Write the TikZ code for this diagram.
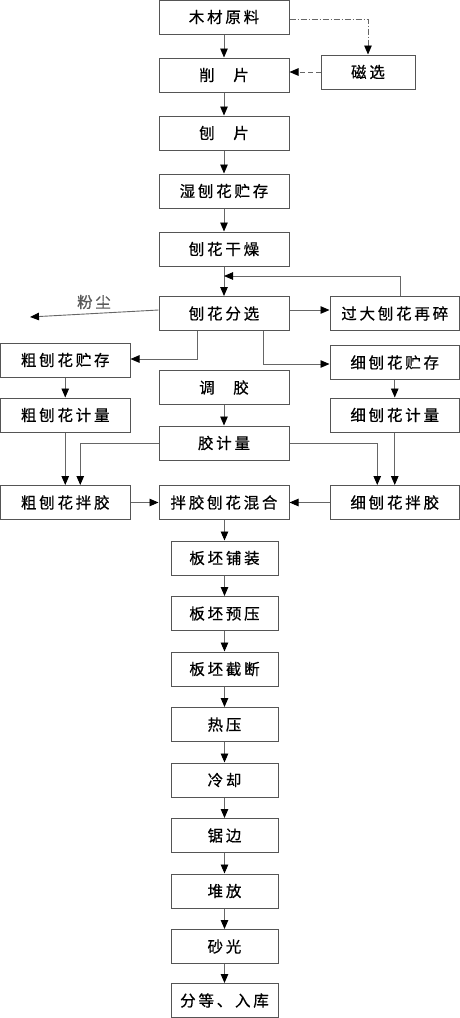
\documentclass[tikz,border=0pt]{standalone}
\usepackage{fontspec}
\setmainfont{Noto Sans CJK SC}[LetterSpace=18,FakeBold=0.6]
\usetikzlibrary{arrows.meta}
\definecolor{boxc}{HTML}{555555}
\definecolor{linec}{HTML}{666666}
\begin{document}
\begin{tikzpicture}[x=1pt,y=-1pt,
  box/.style={draw=boxc, line width=1pt, minimum height=34pt, inner sep=0pt, font=\fontsize{15.5}{15.5}\selectfont},
  mainbox/.style={box, minimum width=130pt},
  sidebox/.style={box, minimum width=129.5pt},
  lowbox/.style={box, minimum width=107pt},
  arr/.style={draw=linec, line width=0.9pt, -{Triangle[length=9pt,width=7.5pt,color=black]}}]
\useasboundingbox (0,0) rectangle (460,1018);
% main column
\node[mainbox] (raw) at (224,17) {木材原料};
\node[mainbox] (xiao) at (224,75) {削\hspace{1.2em}片};
\node[mainbox] (bao) at (224,133) {刨\hspace{1.2em}片};
\node[mainbox] (shi) at (224,191) {湿刨花贮存};
\node[mainbox] (gan) at (224,249) {刨花干燥};
\node[mainbox] (fen) at (224,313.5) {刨花分选};
\node[mainbox] (tiao) at (224,387.5) {调\hspace{1.2em}胶};
\node[mainbox] (jl) at (224,443) {胶计量};
\node[mainbox] (mix) at (224,502.5) {拌胶刨花混合};
\node[box, minimum width=94pt] (mag) at (368,72) {磁选};
% left
\node[sidebox] (cu1) at (65.25,360) {粗刨花贮存};
\node[sidebox] (cu2) at (65.25,415) {粗刨花计量};
\node[sidebox] (cub) at (65.25,502.5) {粗刨花拌胶};
% right
\node[sidebox] (big) at (394.75,313.5) {过大刨花再碎};
\node[sidebox] (xi1) at (394.75,362.5) {细刨花贮存};
\node[sidebox] (xi2) at (394.75,415) {细刨花计量};
\node[sidebox] (xib) at (394.75,502.5) {细刨花拌胶};
% lower column
\node[lowbox] (pu) at (224.5,558) {板坯铺装};
\node[lowbox] (yu) at (224.5,613.5) {板坯预压};
\node[lowbox] (jie) at (224.5,669) {板坯截断};
\node[lowbox] (re) at (224.5,724.5) {热压};
\node[lowbox] (leng) at (224.5,780) {冷却};
\node[lowbox] (ju) at (224.5,835.5) {锯边};
\node[lowbox] (dui) at (224.5,891) {堆放};
\node[lowbox] (sha) at (224.5,946.5) {砂光};
\node[lowbox] (ku) at (224.5,1000.5) {分等、入库};
% dust
\node[text=black!65, font=\fontsize{15.5}{15.5}\selectfont] (dustlabel) at (94,302) {粉尘};
\coordinate (dust) at (30,317);
\coordinate (fb) at (224,276);
% connectors
\draw[arr] (raw) -- (xiao);
\draw[arr] (xiao) -- (bao);
\draw[arr] (bao) -- (shi);
\draw[arr] (shi) -- (gan);
\draw[arr] (gan) -- (fen);
\draw[arr, dash pattern=on 6pt off 2pt on 1pt off 2pt] ([yshift=-2pt]raw.east) -| (mag.north);
\draw[arr, dash pattern=on 5pt off 3pt] (mag.west) -- (mag.west -| xiao.east);
\draw[arr] ([yshift=3.5pt]fen.west) -- (dust);
\draw[arr] ([yshift=3.5pt]fen.east) -- ([yshift=3.5pt]fen.east -| big.west);
\draw[arr] ([xshift=5.5pt]big.north) |- (fb);
\draw[arr] ([xshift=-27pt]fen.south) |- ([yshift=1pt]cu1.east);
\draw[arr] ([xshift=39pt]fen.south) |- ([yshift=-1.5pt]xi1.west);
\draw[arr] (cu1) -- (cu2);
\draw[arr] (xi1) -- (xi2);
\draw[arr] (tiao) -- (jl);
\draw[arr] (cu2) -- (cub);
\draw[arr] (xi2) -- (xib);
\draw[arr] (jl.west) -| ([xshift=15pt]cub.north);
\draw[arr] (jl.east) -| ([xshift=-17.5pt]xib.north);
\draw[arr] (cub.east) -- (mix.west);
\draw[arr] (xib.west) -- (mix.east);
\draw[arr] (mix.south -| pu.north) -- (pu);
\draw[arr] (pu) -- (yu);
\draw[arr] (yu) -- (jie);
\draw[arr] (jie) -- (re);
\draw[arr] (re) -- (leng);
\draw[arr] (leng) -- (ju);
\draw[arr] (ju) -- (dui);
\draw[arr] (dui) -- (sha);
\draw[arr] (sha) -- (ku);
\end{tikzpicture}
\end{document}
